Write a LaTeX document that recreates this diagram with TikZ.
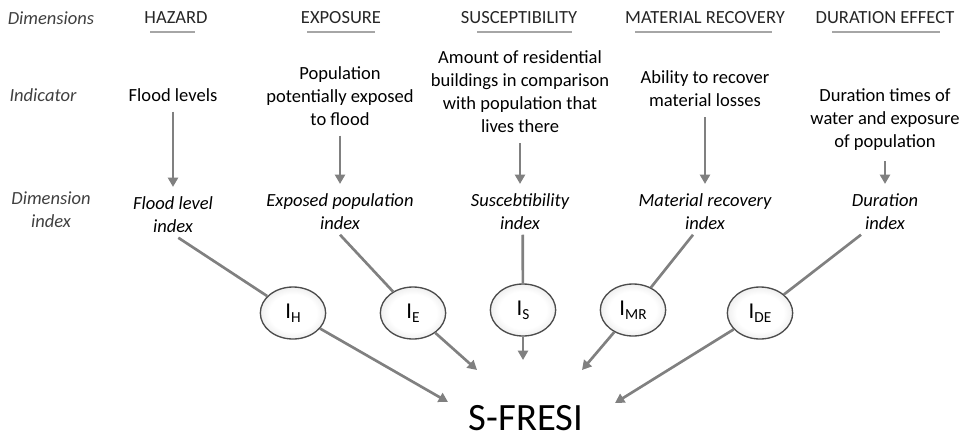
\documentclass[tikz,border=0pt]{standalone}
\usepackage{fontspec}
\setmainfont{Carlito}
\usetikzlibrary{arrows.meta,positioning,shapes.geometric}

\newcommand{\idxlabel}[1]{I\raisebox{-0.4ex}{\fontsize{11.5}{11.5}\selectfont #1}}
\pgfdeclareradialshading{bubbleshade}{\pgfpoint{0bp}{0bp}}{%
    color(0bp)=(white); color(18bp)=(white); color(34bp)=(black!14); color(50bp)=(black!30)}

\begin{document}
\begin{tikzpicture}[
    x=0.75pt, y=-0.75pt,
    font=\fontsize{13.9}{17.3}\selectfont,
    rowlabel/.style={
        font=\fontsize{13.9}{17.3}\selectfont\itshape,
        text=black!75,
        align=center
    },
    heading/.style={text=black!85},
    indicator/.style={align=center},
    dimindex/.style={
        font=\fontsize{13.9}{17.3}\selectfont\itshape,
        align=center
    },
    bubble/.style={
        ellipse,
        draw=black!70,
        line width=1pt,
        minimum width=49pt,
        minimum height=39pt,
        inner sep=0pt,
        shading=bubbleshade,
        font=\fontsize{17}{17}\selectfont
    },
    rule/.style={draw=black!35, line width=2.2pt},
    line/.style={draw=black!50, line width=2pt},
    arr/.style={line, -{Triangle[length=7pt,width=7.5pt]}, shorten <=4pt, shorten >=4pt}
]
\useasboundingbox (0,0) rectangle (962,436);

% ---- Row labels ----
\node[rowlabel] (rowdim) at (51,18) {Dimensions};
\node[rowlabel] (rowind) at (43,95) {Indicator};
\node[rowlabel] (rowidx) at (51,210) {Dimension\\index};

% ---- Dimensions ----
\node[heading] (hzd) at (176,18) {HAZARD};
\node[heading] (exp) at (341,18) {EXPOSURE};
\node[heading] (sus) at (519,18) {SUSCEPTIBILITY};
\node[heading] (mat) at (705,18) {MATERIAL RECOVERY};
\node[heading] (dur) at (885,18) {DURATION EFFECT};

\foreach \a/\b in {150/195, 307/375, 477/572, 635/772, 832/940}
    \draw[rule] (\a,32) -- (\b,32);

% ---- Indicators ----
\node[indicator] (indH) at (173,95) {Flood levels};
\node[indicator] (indE) at (340,96) {Population\\potentially exposed\\to flood};
\node[indicator] (indS) at (520,92) {Amount of residential\\buildings in comparison\\with population that\\lives there};
\node[indicator] (indMR) at (705,89) {Ability to recover\\material losses};
\node[indicator] (indDE) at (885,120) {Duration times of\\water and exposure\\of population};

% ---- Dimension indices ----
\node[dimindex] (idxH) at (173,215) {Flood level\\index};
\node[dimindex] (idxE) at (340,212) {Exposed population\\index};
\node[dimindex] (idxS) at (520,212) {Suscebtibility\\index};
\node[dimindex] (idxMR) at (705,212) {Material recovery\\index};
\node[dimindex] (idxDE) at (885,212) {Duration\\index};

% ---- Index bubbles ----
\node[bubble] (eH) at (293,313) {\idxlabel{H}};
\node[bubble] (eE) at (413,313) {\idxlabel{E}};
\node[bubble] (eS) at (523,310) {\idxlabel{S}};
\node[bubble] (eMR) at (633,310) {\idxlabel{MR}};
\node[bubble] (eDE) at (760,313) {\idxlabel{DE}};

% ---- Result ----
\node[anchor=base, inner sep=0pt, font=\fontsize{29}{29}\selectfont] (sfresi) at (526,430) {S-FRESI};

\coordinate (tipH) at (448,402);
\coordinate (tipE) at (477,370);
\coordinate (tipS) at (523,360);
\coordinate (tipMR) at (582,370);
\coordinate (tipDE) at (615,403);

% ---- Connections ----
\draw[arr] (indH) -- (idxH);
\draw[arr] (indE) -- (idxE);
\draw[arr] (indS) -- (idxS);
\draw[arr] (indMR) -- (idxMR);
\draw[arr] (indDE) -- (idxDE);

\draw[line] ([xshift=4pt]idxH.south) -- (eH);
\draw[line] (idxE.south) -- (eE);
\draw[line] ([xshift=2pt]idxS.south) -- (eS);
\draw[line] ([xshift=-9pt]idxMR.south) -- (eMR);
\draw[line] ([xshift=-18pt]idxDE.south) -- (eDE);

\draw[arr, shorten <=0pt, shorten >=0pt] (eH) -- (tipH);
\draw[arr, shorten <=0pt, shorten >=0pt] (eE) -- (tipE);
\draw[arr, shorten <=0pt, shorten >=0pt] (eS) -- (tipS);
\draw[arr, shorten <=0pt, shorten >=0pt] (eMR) -- (tipMR);
\draw[arr, shorten <=0pt, shorten >=0pt] (eDE) -- (tipDE);

\end{tikzpicture}
\end{document}
